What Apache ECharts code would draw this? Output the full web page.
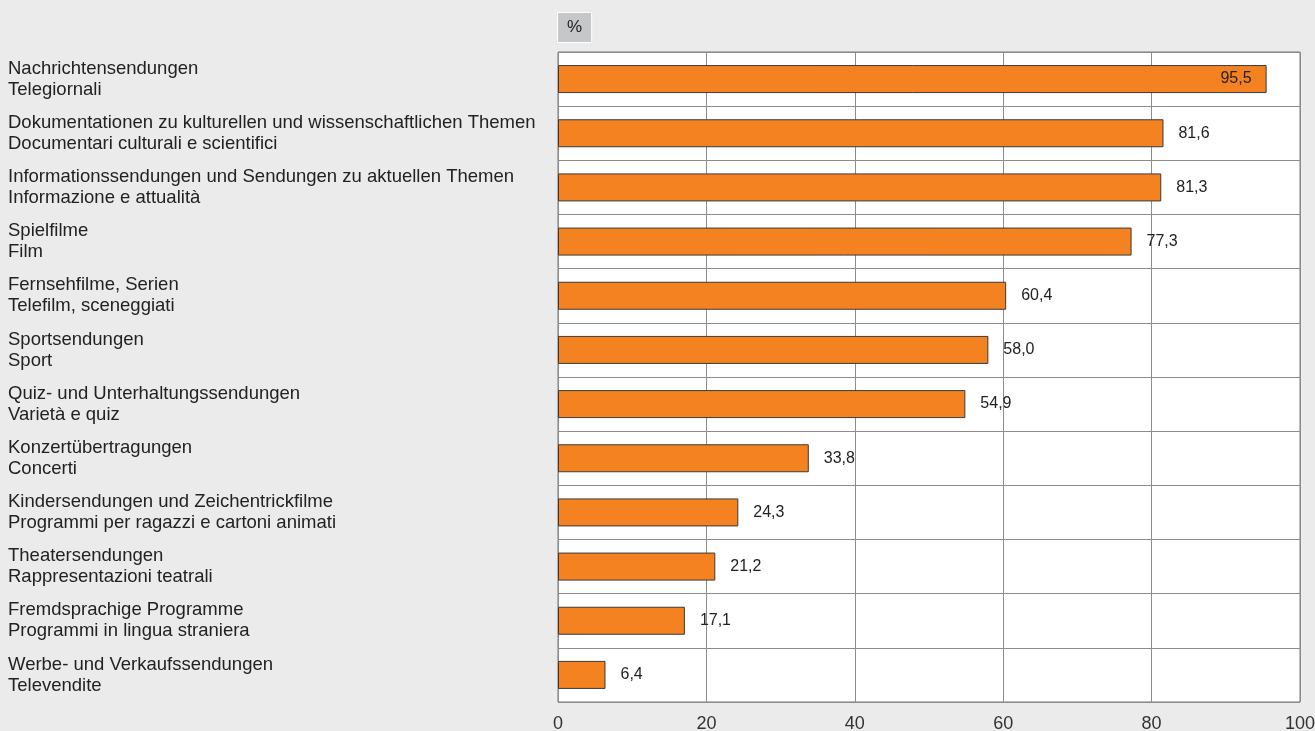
<!DOCTYPE html>
<html>
<head>
<meta charset="utf-8">
<script src="https://cdn.jsdelivr.net/npm/echarts@6/dist/echarts.min.js"></script>
<style>
html,body{margin:0;padding:0;background:#ebebeb;}
#c{width:1315px;height:731px;}
</style>
</head>
<body>
<div id="c"></div>
<script>
const categoriesDe = [
  "Nachrichtensendungen",
  "Dokumentationen zu kulturellen und wissenschaftlichen Themen",
  "Informationssendungen und Sendungen zu aktuellen Themen",
  "Spielfilme",
  "Fernsehfilme, Serien",
  "Sportsendungen",
  "Quiz- und Unterhaltungssendungen",
  "Konzertübertragungen",
  "Kindersendungen und Zeichentrickfilme",
  "Theatersendungen",
  "Fremdsprachige Programme",
  "Werbe- und Verkaufssendungen"
];
const categoriesIt = [
  "Telegiornali",
  "Documentari culturali e scientifici",
  "Informazione e attualità",
  "Film",
  "Telefilm, sceneggiati",
  "Sport",
  "Varietà e quiz",
  "Concerti",
  "Programmi per ragazzi e cartoni animati",
  "Rappresentazioni teatrali",
  "Programmi in lingua straniera",
  "Televendite"
];
const values = [95.5, 81.6, 81.3, 77.3, 60.4, 58.0, 54.9, 33.8, 24.3, 21.2, 17.1, 6.4];
const unitLabel = "%";

const FONT = "'Liberation Sans', Arial, Helvetica, sans-serif";
const categories = categoriesDe.map((d, i) => d + "\n" + categoriesIt[i]);
const fmt = v => v.toFixed(1).replace('.', ',');

const chart = echarts.init(document.getElementById('c'));
chart.setOption({
  backgroundColor: '#ebebeb',
  animation: false,
  textStyle: { fontFamily: FONT },
  grid: { left: 558, right: 15, top: 52, bottom: 29, containLabel: false, outerBoundsMode: 'none', show: true, backgroundColor: '#ffffff', borderColor: '#777777', borderWidth: 1 },
  xAxis: {
    type: 'value', min: 0, max: 100, interval: 20,
    axisLine: { show: false }, axisTick: { show: false },
    splitLine: { show: true, lineStyle: { color: '#8c8c8c', width: 1 } },
    axisLabel: { color: '#333333', fontSize: 18, margin: 13, fontFamily: FONT }
  },
  yAxis: {
    type: 'category', data: categories, inverse: true,
    axisLine: { show: false }, axisTick: { show: false },
    splitLine: { show: true, lineStyle: { color: '#8c8c8c', width: 1 } },
    axisLabel: { align: 'left', margin: 550, color: '#222222', fontSize: 18.5, lineHeight: 21, fontFamily: FONT }
  },
  series: [{
    type: 'bar',
    barWidth: 28,
    data: values.map((v, i) => ({
      value: v,
      label: i === 0 ? { position: 'insideRight', distance: 15 } : { position: 'right', distance: 15 }
    })),
    itemStyle: { color: '#f58220', borderColor: '#3a3a3a', borderWidth: 1 },
    label: { show: true, color: '#222222', fontSize: 16, formatter: p => fmt(p.value), fontFamily: FONT }
  }],
  graphic: [{
    type: 'text',
    left: 557, top: 12,
    style: {
      text: unitLabel, fontSize: 17, fill: '#222222',
      backgroundColor: '#c6c7c9', borderColor: '#ffffff', borderWidth: 1,
      padding: [6, 9, 6, 9], fontFamily: FONT
    }
  }]
});
</script>
</body>
</html>
